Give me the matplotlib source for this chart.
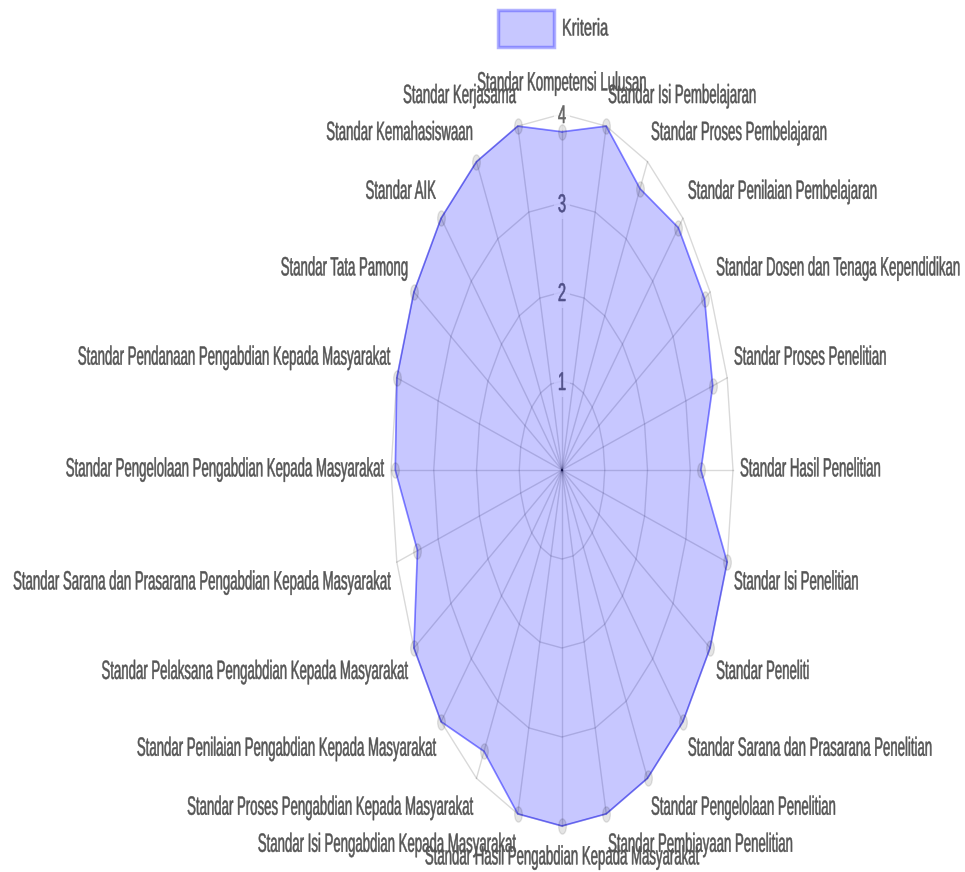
import numpy as np
import matplotlib.pyplot as plt
from matplotlib import patheffects
from matplotlib.patches import Rectangle
from matplotlib.path import Path
from matplotlib.transforms import Affine2D

plt.rcParams['font.family'] = ['Liberation Sans', 'DejaVu Sans']

# data
labels = [
    'Standar Kompetensi Lulusan',
    'Standar Isi Pembelajaran',
    'Standar Proses Pembelajaran',
    'Standar Penilaian Pembelajaran',
    'Standar Dosen dan Tenaga Kependidikan',
    'Standar Proses Penelitian',
    'Standar Hasil Penelitian',
    'Standar Isi Penelitian',
    'Standar Peneliti',
    'Standar Sarana dan Prasarana Penelitian',
    'Standar Pengelolaan Penelitian',
    'Standar Pembiayaan Penelitian',
    'Standar Hasil Pengabdian Kepada Masyarakat',
    'Standar Isi Pengabdian Kepada Masyarakat',
    'Standar Proses Pengabdian Kepada Masyarakat',
    'Standar Penilaian Pengabdian Kepada Masyarakat',
    'Standar Pelaksana Pengabdian Kepada Masyarakat',
    'Standar Sarana dan Prasarana Pengabdian Kepada Masyarakat',
    'Standar Pengelolaan Pengabdian Kepada Masyarakat',
    'Standar Pendanaan Pengabdian Kepada Masyarakat',
    'Standar Tata Pamong',
    'Standar AIK',
    'Standar Kemahasiswaan',
    'Standar Kerjasama',
]
values = [3.8, 4, 3.65, 3.85, 3.85, 3.65, 3.25, 4, 4, 4, 4, 4,
          4, 4, 3.65, 4, 4, 3.5, 3.9, 4, 4, 4, 4, 4]
ticks = [1, 2, 3, 4]
series_name = 'Kriteria'

fill_col = (0, 0, 1, 0.22)
edge_col = (0, 0, 1, 0.33)
grid_col = (0, 0, 0, 0.15)
text_col = '#555555'


class StretchY(patheffects.AbstractPathEffect):
    # the source canvas was stretched vertically, so the glyphs are too
    def __init__(self, sy=2.0, weight=0.35):
        super().__init__()
        self.sy = sy
        self.weight = weight

    def draw_path(self, renderer, gc, tpath, affine, rgbFace=None):
        x0, y0 = affine.get_matrix()[:2, 2]
        stretch = Affine2D().translate(-x0, -y0).scale(1, self.sy).translate(x0, y0)
        gc0 = renderer.new_gc()
        gc0.copy_properties(gc)
        gc0.set_linewidth(self.weight)
        gc0.set_foreground(rgbFace)
        renderer.draw_path(gc0, tpath, affine + stretch, rgbFace)
        gc0.restore()


n = len(labels)
theta = np.arange(n) * 2 * np.pi / n
theta_c = np.append(theta, theta[0])
vals_c = values + values[:1]

fig = plt.figure(figsize=(9.65, 8.72), dpi=100)
ax = fig.add_axes([391 / 965, 46 / 872, 342 / 965, 712 / 872], projection='polar')
ax.set_aspect('auto')
ax.set_theta_offset(np.pi / 2)
ax.set_theta_direction(-1)
ax.grid(False)
ax.set_xticks([])
ax.set_yticks([])
ax.spines['polar'].set_visible(False)
ax.patch.set_alpha(0)

# polygon grid + spokes
for r in ticks:
    ax.plot(theta_c, [r] * (n + 1), color=grid_col, lw=1, zorder=1, clip_on=False)
for t in theta:
    ax.plot([t, t], [0, ticks[-1]], color=grid_col, lw=1, zorder=1, clip_on=False)

for r in ticks:
    ax.annotate(str(r), xy=(0, r), xytext=(0, -9), textcoords='offset pixels',
                ha='center', va='baseline', fontsize=10.5, color='#666666',
                path_effects=[StretchY(1.75, 0.4)], annotation_clip=False, zorder=2,
                bbox=dict(boxstyle='square,pad=0.25', fc='white', ec='none', alpha=0.8))

# dataset
ax.fill(theta_c, vals_c, color=fill_col, zorder=3, clip_on=False)
ax.plot(theta_c, vals_c, color=edge_col, lw=1.3, zorder=4, clip_on=False)
ellipse = Path.unit_circle().transformed(Affine2D().scale(0.5, 1))
ax.plot(theta, values, ls='none', marker=ellipse, ms=11,
        mfc=(0, 0, 0, 0.1), mec=(0, 0, 0, 0.1), zorder=5, clip_on=False)
ax.set_ylim(0, 4)

# point labels
for t, lbl in zip(theta, labels):
    s, c = np.sin(t), np.cos(t)
    if abs(s) < 1e-6:
        ha = 'center'
    elif s > 0:
        ha = 'left'
    else:
        ha = 'right'
    if abs(c) < 1e-6:
        cy = 3
    elif c > 0:
        cy = 19 + 14 * c
    else:
        cy = -(14 + 15 * abs(c))
    ax.annotate(lbl, xy=(t, 4), xytext=(7 * s, cy - 9.4), textcoords='offset pixels',
                ha=ha, va='baseline', fontsize=9.5, color=text_col,
                path_effects=[StretchY(2.0)], annotation_clip=False)

# legend
fig.add_artist(Rectangle((498 / 965, 1 - 47 / 872), 56 / 965, 37 / 872,
                         transform=fig.transFigure, fc=fill_col, ec=(0, 0, 1, 0.3), lw=2.5))
fig.text(562 / 965, 1 - 35.5 / 872, series_name, ha='left', va='baseline',
         fontsize=10.5, color=text_col, path_effects=[StretchY(1.65)])

fig.savefig('out.png', dpi=100)
